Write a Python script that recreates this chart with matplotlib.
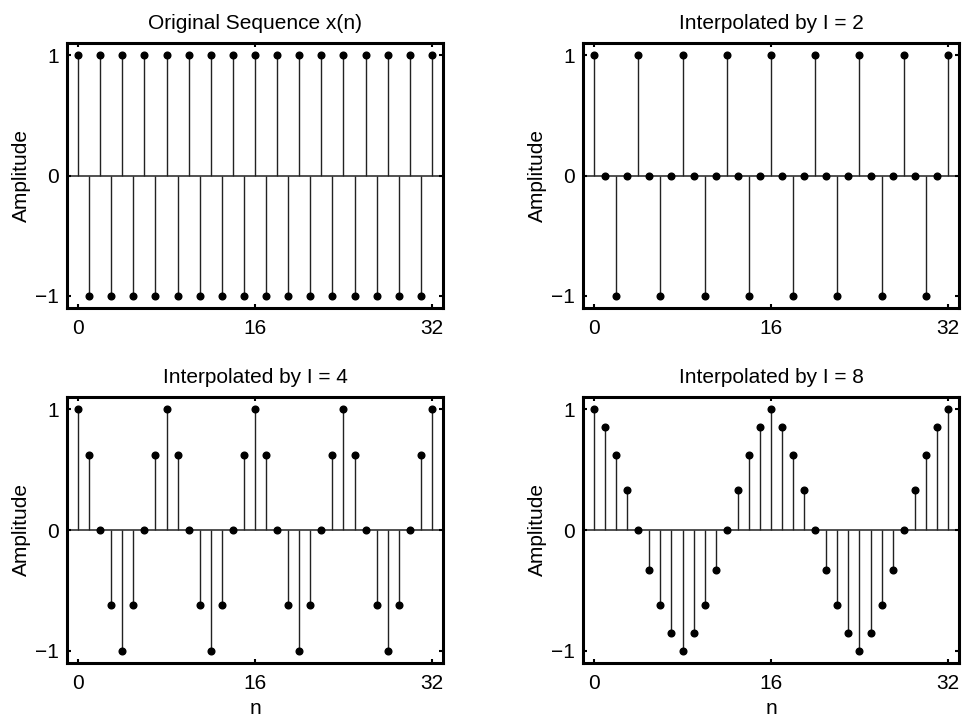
import numpy as np
import matplotlib
matplotlib.use('Agg')
from matplotlib import pyplot as plt

plt.rcParams['font.family'] = ['Liberation Sans', 'DejaVu Sans']
plt.rcParams['font.size'] = 15

# sample index
n = list(range(33))

# original sequence x(n)
x_orig = [1, -1, 1, -1, 1, -1, 1, -1, 1, -1, 1, -1, 1, -1, 1, -1,
          1, -1, 1, -1, 1, -1, 1, -1, 1, -1, 1, -1, 1, -1, 1, -1, 1]

# interpolated by I = 2
x_i2 = [1, 0, -1, 0, 1, 0, -1, 0, 1, 0, -1, 0, 1, 0, -1, 0,
        1, 0, -1, 0, 1, 0, -1, 0, 1, 0, -1, 0, 1, 0, -1, 0, 1]

# interpolated by I = 4
x_i4 = [1, 0.62, 0, -0.62, -1, -0.62, 0, 0.62,
        1, 0.62, 0, -0.62, -1, -0.62, 0, 0.62,
        1, 0.62, 0, -0.62, -1, -0.62, 0, 0.62,
        1, 0.62, 0, -0.62, -1, -0.62, 0, 0.62, 1]

# interpolated by I = 8
x_i8 = [1, 0.85, 0.62, 0.33, 0, -0.33, -0.62, -0.85,
        -1, -0.85, -0.62, -0.33, 0, 0.33, 0.62, 0.85,
        1, 0.85, 0.62, 0.33, 0, -0.33, -0.62, -0.85,
        -1, -0.85, -0.62, -0.33, 0, 0.33, 0.62, 0.85, 1]

titles = ['Original Sequence x(n)', 'Interpolated by I = 2',
          'Interpolated by I = 4', 'Interpolated by I = 8']
series = [x_orig, x_i2, x_i4, x_i8]

W, H = 963, 717
# axes boxes in pixels: left, top, right, bottom
boxes = [(67, 43, 443, 308), (583, 43, 959, 308),
         (67, 397, 443, 663), (583, 397, 959, 663)]

fig = plt.figure(figsize=(W / 100, H / 100), dpi=100)

for k in range(4):
    l, t, r, b = boxes[k]
    ax = fig.add_axes([l / W, 1 - b / H, (r - l) / W, (b - t) / H])
    ml, sl, bl = ax.stem(n, series[k], linefmt='k-', markerfmt='ko', basefmt=' ')
    plt.setp(sl, linewidth=1.0, color='#222222')
    plt.setp(ml, markersize=4.8)
    ax.axhline(0, color='#222222', linewidth=1.1, zorder=1)
    ax.set_xlim(-1, 33)
    ax.set_ylim(-1.1, 1.1)
    ax.set_xticks([0, 16, 32])
    ax.set_yticks([-1, 0, 1])
    ax.tick_params(direction='in', top=True, right=True, length=3, width=1.5)
    ax.tick_params(axis='x', pad=8)
    ax.tick_params(axis='y', pad=6)
    for s in ax.spines.values():
        s.set_linewidth(2.2)
    ax.set_title(titles[k], fontsize=15, pad=10)
    ax.set_ylabel('Amplitude', labelpad=3)
    if k >= 2:
        ax.set_xlabel('n', labelpad=4)

plt.savefig('out.png', dpi=100)
